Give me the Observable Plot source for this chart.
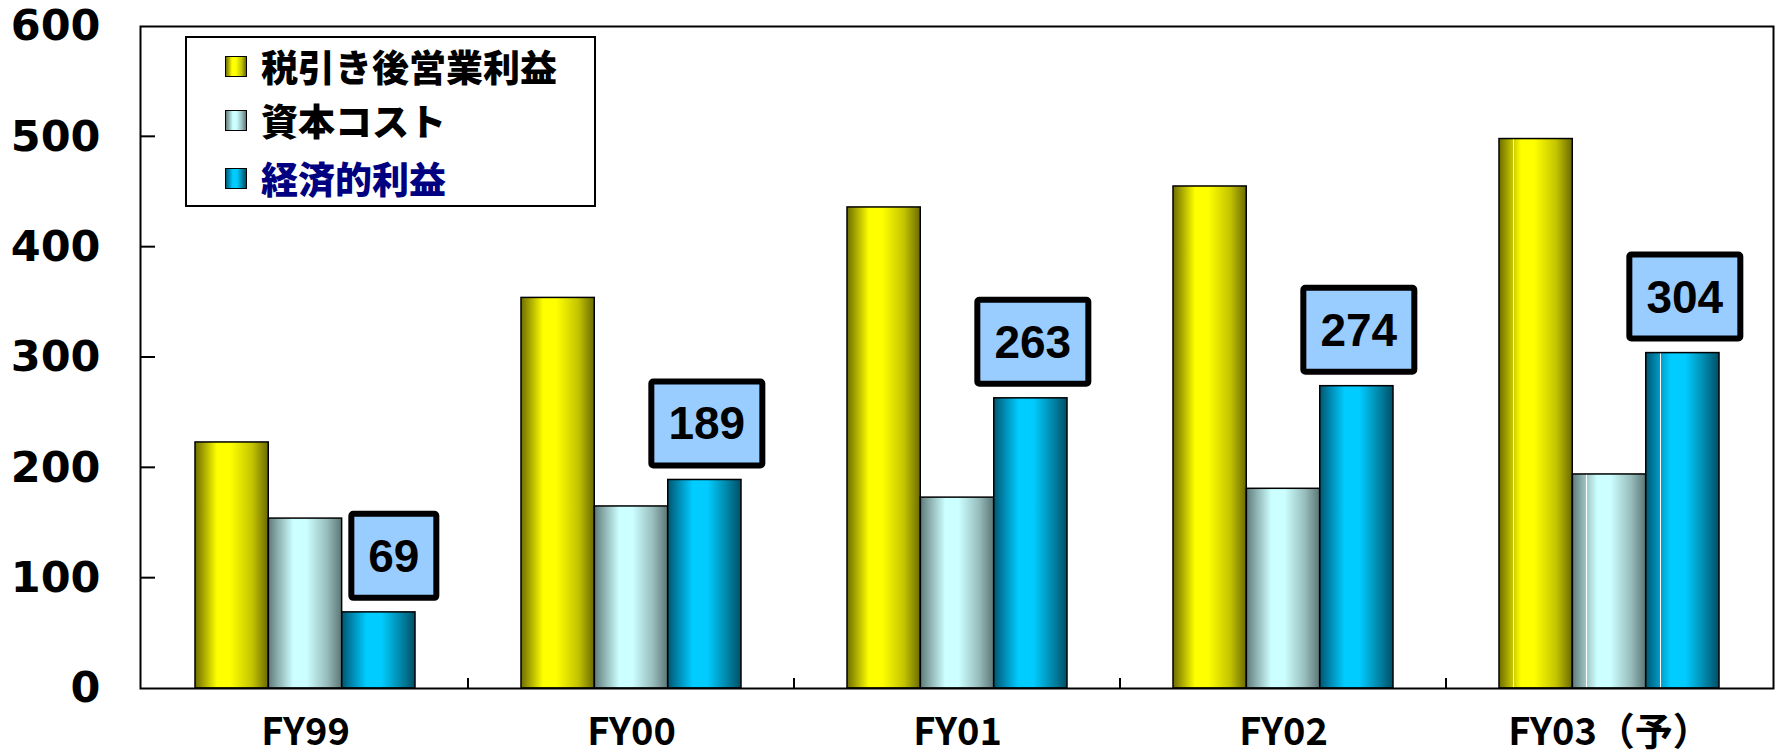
<!DOCTYPE html>
<html>
<head>
<meta charset="utf-8">
<script src="https://cdn.jsdelivr.net/npm/d3@7"></script>
<script src="https://cdn.jsdelivr.net/npm/@observablehq/plot@0.6"></script>
<style>
  body { margin: 0; background: #fff; }
  #chart { position: relative; width: 1778px; height: 756px; }
  .legend {
    position: absolute; left: 185px; top: 36px; width: 407px; height: 167px;
    border: 2px solid #000; background: #fff;
    font-family: "Noto Sans CJK JP", sans-serif; font-weight: 900; font-size: 37px;
  }
  .legend .row { position: absolute; left: 38px; height: 44px; display: flex; align-items: center; white-space: nowrap; }
  .legend .sw { width: 20px; height: 19px; border: 1.5px solid #000; margin-right: 14px; flex: none; }
</style>
</head>
<body>
<div id="chart"></div>
<script>
// Fiscal years (the last one is a forecast, marked 予)
const categories = ["FY99", "FY00", "FY01", "FY02", "FY03（予）"];
const forecastCategory = "FY03（予）";

// Series names
const seriesNames = ["税引き後営業利益", "資本コスト", "経済的利益"];
const seriesTextColors = ["#000", "#000", "#000080"];

// Values per fiscal year
const operatingProfit = [223, 354, 436, 455, 498];
const capitalCost = [154, 165, 173, 181, 194];
const economicProfit = [69, 189, 263, 274, 304];

// Y axis ticks
const yTicks = [0, 100, 200, 300, 400, 500, 600];

// Cylinder-like shading per series: [offset, color]
const shading = [
  [[0, "#6e6e00"], [0.12, "#a6a600"], [0.3, "#ffff00"], [0.48, "#ffff00"], [0.78, "#c4c400"], [1, "#6a6a00"]],
  [[0, "#5f7b7b"], [0.14, "#8fb2b2"], [0.34, "#ccffff"], [0.52, "#ccffff"], [0.8, "#98bcbc"], [1, "#5c7676"]],
  [[0, "#005670"], [0.14, "#0088b0"], [0.34, "#00ccff"], [0.54, "#00ccff"], [0.8, "#0088aa"], [1, "#004f66"]]
];

const width = 1778, height = 756;
const marginLeft = 140, marginRight = 5, marginTop = 26, marginBottom = 68;
const paddingInner = 0.326, paddingOuter = paddingInner / 2;
const step = (width - marginLeft - marginRight) / categories.length;
const barWidth = step * (1 - paddingInner) / seriesNames.length;

const seriesValues = [operatingProfit, capitalCost, economicProfit];
const rows = seriesValues.flatMap((vals, s) =>
  categories.map((c, i) => ({category: c, series: s, value: vals[i]}))
);

// Build a color at an offset of the shading ramp
function sampleRamp(stops, t) {
  for (let k = 1; k < stops.length; ++k) {
    if (t <= stops[k][0]) {
      const [t0, c0] = stops[k - 1], [t1, c1] = stops[k];
      return d3.interpolateRgb(c0, c1)((t - t0) / (t1 - t0 || 1));
    }
  }
  return stops[stops.length - 1][1];
}

// Gradient definitions (regular bars, and forecast bars with a thin white stripe)
function gradientDefs() {
  const defs = d3.create("svg:defs");
  shading.forEach((stops, s) => {
    const reg = defs.append("linearGradient").attr("id", `bar${s}`).attr("x1", 0).attr("x2", 1).attr("y1", 0).attr("y2", 0);
    stops.forEach(([o, c]) => reg.append("stop").attr("offset", o).attr("stop-color", c));
    const fc = defs.append("linearGradient").attr("id", `bar${s}f`).attr("x1", 0).attr("x2", 1).attr("y1", 0).attr("y2", 0);
    const a = 0.19, b = 0.205;
    const list = [];
    stops.forEach(([o, c]) => { if (o < a) list.push([o, c]); });
    list.push([a, sampleRamp(stops, a)], [a, "#ffffff"], [b, "#ffffff"], [b, sampleRamp(stops, b)]);
    stops.forEach(([o, c]) => { if (o > b) list.push([o, c]); });
    list.forEach(([o, c]) => fc.append("stop").attr("offset", o).attr("stop-color", c));
  });
  return defs.node();
}

// Inward ticks on the value axis and category separators on the base line
function axisTicks(index, {x, y}, values, dims) {
  const g = d3.create("svg:g").attr("stroke", "#000").attr("stroke-width", 2);
  yTicks.slice(1, -1).forEach(t => {
    g.append("line").attr("x1", dims.marginLeft).attr("x2", dims.marginLeft + 15)
      .attr("y1", y(t)).attr("y2", y(t));
  });
  const gap = x.step() - x.bandwidth();
  categories.slice(1).forEach(c => {
    const xb = x(c) - gap / 2;
    g.append("line").attr("x1", xb).attr("x2", xb).attr("y1", y(0)).attr("y2", y(0) - 10);
  });
  return g.node();
}

// Value boxes above the economic-profit bars
function valueBoxes(index, {x, y}) {
  const g = d3.create("svg:g");
  const bw = x.bandwidth() / seriesNames.length;
  categories.forEach((c, i) => {
    const v = economicProfit[i];
    const label = String(v);
    const cx = x(c) + 2.5 * bw;
    const top = y(v);
    const w = 33 + 26 * label.length, h = 84;
    const right = cx + 58;
    const bottom = top - 14;
    g.append("rect")
      .attr("x", right - w).attr("y", bottom - h).attr("width", w).attr("height", h)
      .attr("rx", 2).attr("fill", "#99ccff").attr("stroke", "#000").attr("stroke-width", 6);
    g.append("text")
      .attr("x", right - w / 2).attr("y", bottom - h / 2)
      .attr("text-anchor", "middle").attr("dominant-baseline", "central")
      .attr("font-family", "'Liberation Sans', Arial, sans-serif").attr("font-weight", 700)
      .attr("font-size", 46).attr("fill", "#000")
      .text(label);
  });
  return g.node();
}

const barMarks = [];
seriesNames.forEach((name, s) => {
  const insets = {insetLeft: s * barWidth, insetRight: (seriesNames.length - 1 - s) * barWidth};
  [false, true].forEach(isForecast => {
    barMarks.push(Plot.barY(rows, {
      filter: d => d.series === s && (d.category === forecastCategory) === isForecast,
      x: "category", y: "value",
      fill: isForecast ? `url(#bar${s}f)` : `url(#bar${s})`,
      stroke: "#000", strokeWidth: 1.5,
      ...insets
    }));
  });
});

const chart = Plot.plot({
  width, height, marginLeft, marginRight, marginTop, marginBottom,
  style: {background: "#fff", overflow: "visible"},
  x: {domain: categories, paddingInner, paddingOuter, label: null},
  y: {domain: [0, 600], label: null},
  marks: [
    gradientDefs,
    ...barMarks,
    Plot.frame({stroke: "#000", strokeWidth: 2}),
    axisTicks,
    Plot.axisY(yTicks, {
      tickSize: 0, tickPadding: 40, label: null,
      fontFamily: "DejaVu Sans", fontWeight: 700, fontSize: 43, fill: "#000"
    }),
    Plot.axisX({
      tickSize: 0, tickPadding: 30, label: null,
      fontFamily: "Noto Sans CJK JP", fontWeight: 700, fontSize: 38, fill: "#000"
    }),
    valueBoxes
  ]
});

const root = document.getElementById("chart");
root.appendChild(chart);

// Legend inside the plot area
const legend = document.createElement("div");
legend.className = "legend";
const rowCenters = [28, 82, 140];
seriesNames.forEach((name, s) => {
  const row = document.createElement("div");
  row.className = "row";
  row.style.top = (rowCenters[s] - 22) + "px";
  const sw = document.createElement("div");
  sw.className = "sw";
  sw.style.background = "linear-gradient(to right, " +
    shading[s].map(([o, c]) => `${c} ${Math.round(o * 100)}%`).join(", ") + ")";
  const txt = document.createElement("span");
  txt.textContent = name;
  txt.style.color = seriesTextColors[s];
  row.appendChild(sw);
  row.appendChild(txt);
  legend.appendChild(row);
});
root.appendChild(legend);
</script>
</body>
</html>
